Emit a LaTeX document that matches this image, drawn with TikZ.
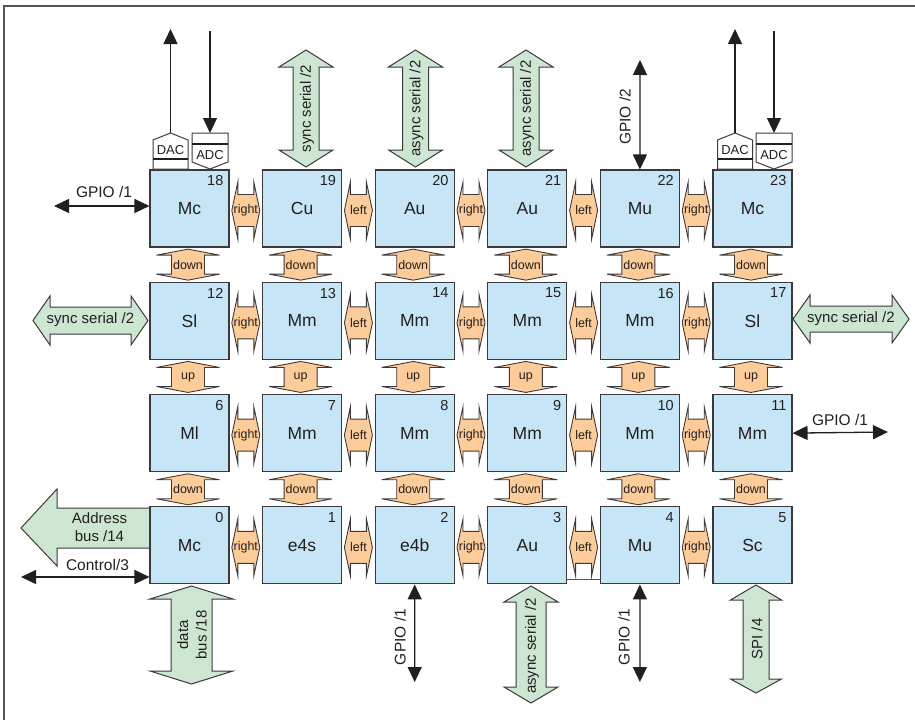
\documentclass[tikz,border=0pt]{standalone}
\usepackage{fontspec}
\setmainfont{Liberation Sans}
\usetikzlibrary{arrows.meta}
\definecolor{bfill}{HTML}{C6E6F7}
\definecolor{bline}{HTML}{3A3A3A}
\definecolor{ofill}{HTML}{FDCC99}
\definecolor{gfill}{HTML}{CCE6D2}
\definecolor{txt}{HTML}{231F20}
\definecolor{frame}{HTML}{555555}
\tikzset{
  block/.style={draw=bline, fill=bfill, line width=1.1pt, minimum width=79pt, minimum height=77pt, inner sep=0pt, font=\fontsize{17.5}{19}\selectfont, text=txt},
  num/.style={anchor=north east, inner sep=0pt, font=\fontsize{14.5}{16}\selectfont, text=txt},
  oshape/.style={draw=bline, fill=ofill, line width=0.9pt, line join=miter},
  olab/.style={inner sep=0pt, font=\fontsize{12.5}{14}\selectfont, text=txt},
  gshape/.style={draw=bline, fill=gfill, line width=1pt},
  glab/.style={inner sep=0pt, font=\fontsize{15}{18.5}\selectfont, text=txt, align=center},
  sig/.style={draw=txt, line width=1.3pt, <->},
  sigone/.style={draw=txt, line width=1.3pt, ->},
  lab/.style={inner sep=0pt, font=\fontsize{15.5}{18}\selectfont, text=txt},
  conv/.style={draw=bline, fill=white, line width=1pt},
  convbar/.style={draw=txt, line width=1.6pt},
  convlab/.style={inner sep=0pt, font=\fontsize{13}{15}\selectfont, text=txt},
  >={Triangle[length=15pt,width=14pt]}
}
\begin{document}
\begin{tikzpicture}[x=1pt,y=-1pt]
\useasboundingbox (0,0) rectangle (915,720);
% frame
\draw[frame, line width=1.5pt] (4,720) -- (4,6) -- (915,6);

% ---------- green arrows ----------
% top vertical double arrows
\foreach \x/\t [count=\i] in {306/{sync serial /2}, 415.5/{async serial /2}, 526/{async serial /2}} {
  \draw[gshape] (\x,50) -- (\x+27,67) -- (\x+13,67) -- (\x+13,150) -- (\x+27,150) -- (\x,167)
     -- (\x-27,150) -- (\x-13,150) -- (\x-13,67) -- (\x-27,67) -- cycle;
  \node[glab, rotate=90] (gt\i) at (\x+1,108.5) {\t};
}
% left sync serial
\draw[gshape] (33,320.5) -- (50,296) -- (50,307) -- (131,307) -- (131,296) -- (148,320.5)
   -- (131,345) -- (131,334) -- (50,334) -- (50,345) -- cycle;
\node[glab] (gl) at (90.5,320) {sync serial /2};
% right sync serial
\draw[gshape] (793,319) -- (810,295) -- (810,306) -- (892,306) -- (892,295) -- (909,319)
   -- (892,343) -- (892,332) -- (810,332) -- (810,343) -- cycle;
\node[glab] (gr) at (851,318.5) {sync serial /2};
% address bus
\draw[gshape] (150,508) -- (57,508) -- (57,489) -- (21,528) -- (57,566) -- (57,548) -- (150,548) -- cycle;
\node[glab] (addr) at (99.5,527) {Address\\bus /14};
% data bus
\draw[gshape] (191.5,586) -- (233,599) -- (212,599) -- (212,671) -- (233,671) -- (191.5,684)
   -- (150,671) -- (171,671) -- (171,599) -- (150,599) -- cycle;
\node[glab, rotate=90] (dbus) at (192,635) {data\\bus /18};
% async serial bottom
\draw[gshape] (531,586) -- (558,602) -- (546,602) -- (546,687) -- (558,687) -- (531,703)
   -- (504,687) -- (516,687) -- (516,602) -- (504,602) -- cycle;
\node[glab, rotate=90] (gb) at (532,646) {async serial /2};
% SPI
\draw[gshape] (756,585) -- (781.5,600) -- (769,600) -- (769,679) -- (781.5,679) -- (756,693)
   -- (730.5,679) -- (743,679) -- (743,600) -- (730.5,600) -- cycle;
\node[glab, rotate=90] (spi) at (757,639) {SPI /4};

% ---------- blocks ----------
\foreach \n/\t/\c/\r in {18/Mc/0/0, 19/Cu/1/0, 20/Au/2/0, 21/Au/3/0, 22/Mu/4/0, 23/Mc/5/0,
                         12/Sl/0/1, 13/Mm/1/1, 14/Mm/2/1, 15/Mm/3/1, 16/Mm/4/1, 17/Sl/5/1,
                         6/Ml/0/2, 7/Mm/1/2, 8/Mm/2/2, 9/Mm/3/2, 10/Mm/4/2, 11/Mm/5/2,
                         0/Mc/0/3, 1/e4s/1/3, 2/e4b/2/3, 3/Au/3/3, 4/Mu/4/3, 5/Sc/5/3} {
  \node[block] (b\n) at ({189.5+112.6*\c},{208.5+112.3*\r}) {\t};
  \node[num] (n\n) at ([xshift=-6pt,yshift=-6pt]b\n.north east) {\n};
}
% line between 3 and 4
\draw[draw=frame, line width=1pt] ([yshift=5pt]b3.south east) -- ([yshift=5pt]b4.south west);

% ---------- orange horizontal arrows ----------
\foreach \y [count=\j] in {210.5,322.8,435.1,547.4} {
  \foreach \x/\t [count=\i] in {245.8/right,358.4/left,471.0/right,583.6/left,696.2/right} {
    \draw[oshape] (\x-14,\y) -- (\x-8,\y-28.5) -- (\x-8,\y-16) -- (\x+8,\y-16) -- (\x+8,\y-28.5)
      -- (\x+14,\y) -- (\x+8,\y+28.5) -- (\x+8,\y+16) -- (\x-8,\y+16) -- (\x-8,\y+28.5) -- cycle;
    \node[olab] (h\j\i) at (\x,\y) {\t};
  }
}
% ---------- orange vertical arrows ----------
\foreach \y/\t [count=\j] in {264.65/down,376.95/up,489.25/down} {
  \foreach \x [count=\i] in {188,300.6,413.2,525.8,638.4,751} {
    \draw[oshape] (\x,\y-15.5) -- (\x+31.5,\y-9.5) -- (\x+16.5,\y-9.5) -- (\x+16.5,\y+9.5)
      -- (\x+31.5,\y+9.5) -- (\x,\y+15.5) -- (\x-31.5,\y+9.5) -- (\x-16.5,\y+9.5)
      -- (\x-16.5,\y-9.5) -- (\x-31.5,\y-9.5) -- cycle;
    \node[olab] (v\j\i) at (\x,\y) {\t};
  }
}

% ---------- DAC / ADC ----------
\foreach \dx/\ax/\s in {170.5/210/L, 735/774/R} {
  \draw[conv] (\dx-17.5,169) -- (\dx-17.5,140) -- (\dx,133) -- (\dx+17.5,140) -- (\dx+17.5,169) -- cycle;
  \draw[convbar] (\dx-17.5,159) -- (\dx+17.5,159);
  \node[convlab] (dac\s) at (\dx,150) {DAC};
  \draw[conv] (\ax-18,133) -- (\ax+18,133) -- (\ax+18,162) -- (\ax,169) -- (\ax-18,162) -- cycle;
  \draw[convbar] (\ax-18,144) -- (\ax+18,144);
  \node[convlab] (adc\s) at (\ax,155) {ADC};
  \coordinate (dacT\s) at (\dx,133);
  \coordinate (dacE\s) at (\dx,29);
  \coordinate (adcT\s) at (\ax,133);
  \coordinate (adcS\s) at (\ax,31);
  \draw[sigone] (dacT\s) -- (dacE\s);
  \draw[sigone] (adcS\s) -- (adcT\s);
}

% ---------- signal line arrows ----------
% GPIO /1 left of 18
\coordinate (g18) at (54,206);
\draw[sig] (g18) -- ([yshift=2.5pt]b18.west);
\node[lab] (lg18) at (104,192) {GPIO /1};
% GPIO /2 above 22
\coordinate (g22) at (640,60);
\draw[sig] (g22) -- (b22.north);
\node[lab, rotate=90] (lg22) at (625,117) {GPIO /2};
% GPIO /1 right of 11
\coordinate (g11) at (888,432);
\draw[sig] (b11.east) -- (g11);
\node[lab] (lg11) at (840,420) {GPIO /1};
% Control/3
\coordinate (ctl) at (21,577);
\draw[sig] (ctl) -- ([yshift=-31.6pt]b0.west);
\node[lab] (lctl) at (97.5,565) {Control/3};
% GPIO /1 under 2 and 4
\coordinate (g2) at (414.7,682);
\draw[sig] (b2.south) -- (g2);
\node[lab, rotate=90] (lg2) at (400,637) {GPIO /1};
\coordinate (g4) at (639.9,682);
\draw[sig] (b4.south) -- (g4);
\node[lab, rotate=90] (lg4) at (624,637) {GPIO /1};
\end{tikzpicture}
\end{document}
